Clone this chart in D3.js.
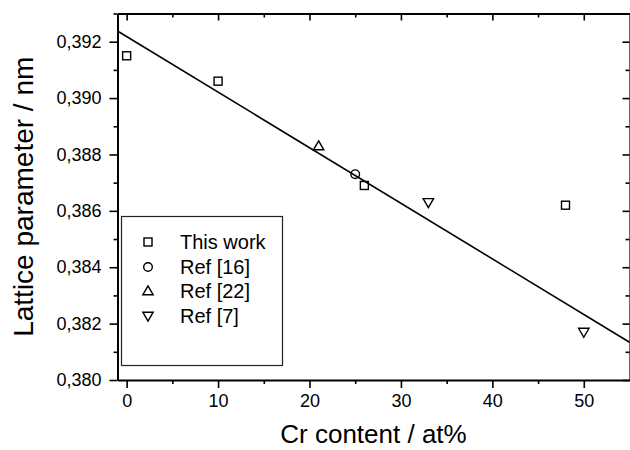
<!DOCTYPE html>
<html><head><meta charset="utf-8">
<script src="https://cdn.jsdelivr.net/npm/d3@7"></script>
<style>body{margin:0;background:#fff}svg{display:block}text{font-family:"Liberation Sans",Arial,sans-serif;fill:#000}</style>
</head><body>
<script>
// Data
const thisWorkX = [0, 10, 26, 48];
const thisWorkY = [0.3915, 0.3906, 0.3869, 0.3862];
const ref16X = [25];
const ref16Y = [0.3873];
const ref22X = [21];
const ref22Y = [0.3883];
const ref7X = [33, 50];
const ref7Y = [0.3863, 0.3817];
const fitX = [-1, 55];
const fitY = [0.39238, 0.38134];
const xTicks = [0, 10, 20, 30, 40, 50];
const yTicks = [0.380, 0.382, 0.384, 0.386, 0.388, 0.390, 0.392];
const legendLabels = ["This work", "Ref [16]", "Ref [22]", "Ref [7]"];

const W = 630, H = 450;
const L = 117.5, R = 629.5, T = 13.5, B = 380;
const svg = d3.select("body").append("svg").attr("width", W).attr("height", H);
const x = d3.scaleLinear().domain([-1, 55]).range([L, R]);
const y = d3.scaleLinear().domain([0.380, 0.393]).range([B, T]);

const fmtY = d => d3.format(".3f")(d).replace(".", ",");
const xMinor = d3.range(5, 55, 10);
const yMinor = d3.range(0.381, 0.3935, 0.002);

// Bottom axis
const gB = svg.append("g").attr("transform", `translate(0,${B})`)
  .call(d3.axisBottom(x).tickValues(xTicks).tickSize(8).tickSizeOuter(0).tickPadding(6));
gB.append("g").call(d3.axisBottom(x).tickValues(xMinor).tickSize(4).tickFormat(""));
// Left axis
const gL = svg.append("g").attr("transform", `translate(${L},0)`)
  .call(d3.axisLeft(y).tickValues(yTicks).tickFormat(fmtY).tickSize(8).tickSizeOuter(0).tickPadding(8));
gL.append("g").call(d3.axisLeft(y).tickValues(yMinor).tickSize(4).tickFormat(""));
// Top axis (inward ticks)
const gT = svg.append("g").attr("transform", `translate(0,${T})`)
  .call(d3.axisBottom(x).tickValues(xTicks).tickSize(7).tickSizeOuter(0).tickFormat(""));
gT.append("g").call(d3.axisBottom(x).tickValues(xMinor).tickSize(4).tickFormat(""));
// Right axis (inward ticks)
const gR = svg.append("g").attr("transform", `translate(${R},0)`)
  .call(d3.axisLeft(y).tickValues(yTicks).tickSize(7).tickSizeOuter(0).tickFormat(""));
gR.append("g").call(d3.axisLeft(y).tickValues(yMinor).tickSize(4).tickFormat(""));

svg.selectAll(".domain").attr("stroke", "#000").attr("stroke-width", 2);
svg.selectAll(".tick line").attr("stroke", "#000").attr("stroke-width", 1.6);
svg.selectAll(".tick text").style("font-size", "18px").style("font-family", '"Liberation Sans",Arial,sans-serif');
gR.select(".domain").attr("stroke-width", 1.2);
[gB, gL, gT, gR].forEach(g => g.selectAll("g > g > .domain").remove());

// Axis titles
svg.append("text").attr("x", (L + R) / 2).attr("y", 443).attr("text-anchor", "middle")
  .style("font-size", "26px").text("Cr content / at%");
svg.append("text").attr("transform", `translate(33,${(T + B) / 2}) rotate(-90)`).attr("text-anchor", "middle")
  .style("font-size", "28px").text("Lattice parameter / nm");

// Fit line
svg.append("path").datum(fitX.map((d, i) => [d, fitY[i]]))
  .attr("d", d3.line().x(d => x(d[0])).y(d => y(d[1])))
  .attr("fill", "none").attr("stroke", "#000").attr("stroke-width", 1.6);

// Marker shapes
function marker(g, kind) {
  const s = 1.4;
  if (kind === 0) g.append("rect").attr("x", -4).attr("y", -4).attr("width", 8).attr("height", 8);
  if (kind === 1) g.append("circle").attr("r", 4.3);
  if (kind === 2) g.append("path").attr("d", "M0,-5.2L5.2,3.8L-5.2,3.8Z");
  if (kind === 3) g.append("path").attr("d", "M0,5.2L5.2,-3.8L-5.2,-3.8Z");
  g.selectAll("*").attr("fill", "none").attr("stroke", "#000").attr("stroke-width", s);
}
const series = [[thisWorkX, thisWorkY], [ref16X, ref16Y], [ref22X, ref22Y], [ref7X, ref7Y]];
series.forEach(([xs, ys], k) => {
  xs.forEach((xv, i) => {
    const g = svg.append("g").attr("transform", `translate(${x(xv)},${y(ys[i])})`);
    marker(g, k);
  });
});

// Legend
const lg = svg.append("g");
lg.append("rect").attr("x", 121.5).attr("y", 216.5).attr("width", 161).attr("height", 149)
  .attr("fill", "#fff").attr("stroke", "#222").attr("stroke-width", 1.2);
const rowsY = [242, 267, 291, 316];
legendLabels.forEach((lab, i) => {
  const g = lg.append("g").attr("transform", `translate(148,${rowsY[i]})`);
  marker(g, i);
  lg.append("text").attr("x", 180).attr("y", rowsY[i] + 7).style("font-size", "20px").text(lab);
});
</script>
</body></html>
